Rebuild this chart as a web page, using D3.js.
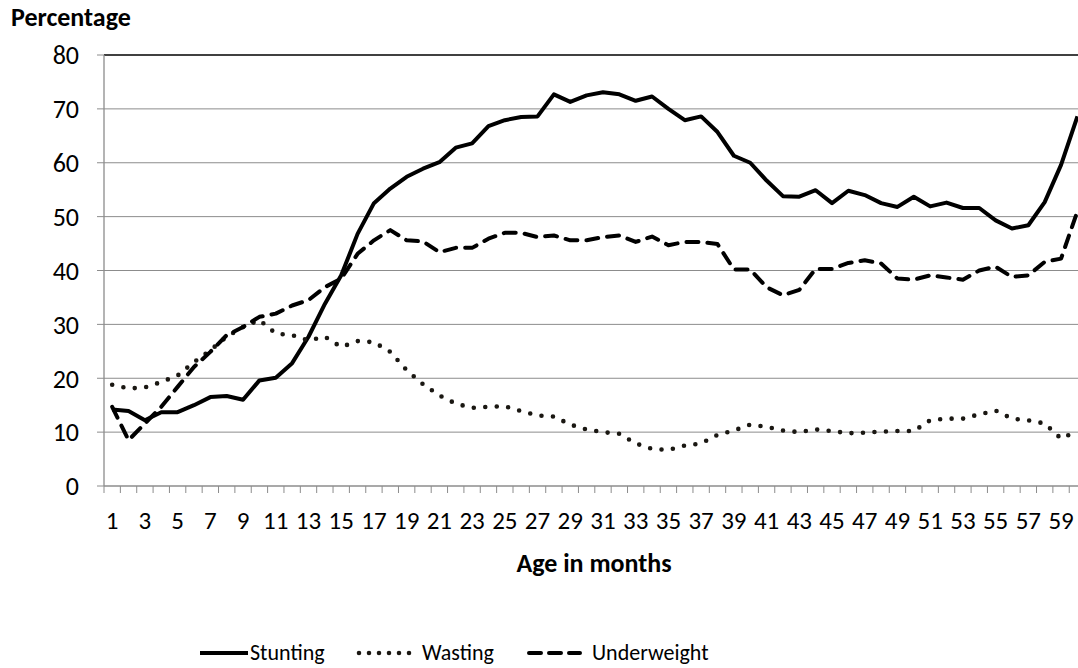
<!DOCTYPE html>
<html>
<head>
<meta charset="utf-8">
<script src="https://cdn.jsdelivr.net/npm/d3@7"></script>
<style>
  body { margin: 0; background: #fff; }
  svg { display: block; font-family: Carlito, Lato, "Open Sans", sans-serif; }
</style>
</head>
<body>
<script>
// age in months, 1..60
var months = d3.range(1, 61);
var yTicks = [0, 10, 20, 30, 40, 50, 60, 70, 80];

var stunting = [14.2, 13.9, 12.2, 13.7, 13.7, 15.0, 16.5, 16.7, 16.0, 19.6,
                20.1, 22.8, 27.7, 33.8, 39.1, 46.8, 52.5, 55.2, 57.4, 58.9,
                60.1, 62.8, 63.6, 66.8, 67.9, 68.5, 68.6, 72.7, 71.3, 72.5,
                73.1, 72.7, 71.5, 72.3, 70.0, 67.9, 68.6, 65.7, 61.3, 60.0,
                56.7, 53.8, 53.7, 54.9, 52.5, 54.8, 54.0, 52.5, 51.8, 53.7,
                51.9, 52.6, 51.6, 51.6, 49.3, 47.8, 48.4, 52.7, 59.6, 68.6];

var wasting = [18.8, 18.1, 18.3, 19.3, 20.5, 23.0, 25.2, 27.7, 29.5, 30.8,
               28.3, 28.0, 27.0, 27.7, 25.8, 26.9, 26.7, 24.9, 21.5, 18.9,
               16.8, 15.3, 14.5, 14.7, 14.8, 13.9, 13.1, 12.9, 11.4, 10.5,
               10.0, 9.7, 7.9, 6.9, 6.7, 7.5, 7.9, 9.5, 10.3, 11.4,
               11.0, 10.3, 10.0, 10.5, 10.2, 9.8, 9.9, 10.1, 10.2, 10.2,
               12.2, 12.5, 12.5, 13.3, 14.0, 12.5, 12.2, 11.6, 8.8, 10.2];

var underweight = [14.7, 8.5, 11.6, 14.7, 18.4, 22.1, 24.9, 28.0, 29.5, 31.4,
                   32.0, 33.5, 34.5, 36.9, 38.5, 43.1, 45.6, 47.5, 45.6, 45.4,
                   43.4, 44.2, 44.2, 45.9, 47.0, 47.0, 46.2, 46.5, 45.6, 45.6,
                   46.2, 46.5, 45.3, 46.3, 44.7, 45.3, 45.3, 44.9, 40.2, 40.2,
                   36.9, 35.4, 36.4, 40.3, 40.3, 41.4, 41.9, 41.3, 38.5, 38.3,
                   39.1, 38.7, 38.3, 40.0, 40.7, 38.8, 39.1, 41.6, 42.2, 51.0];

var seriesNames = ["Stunting", "Wasting", "Underweight"];

var width = 1078,
    height = 668;

var svg = d3.select("body")
    .append("svg")
    .attr("width", width)
    .attr("height", height);

var plotLeft = 104, plotTop = 55, plotBottom = 486;
var step = 16.36;

var x = d3.scaleBand()
    .domain(months)
    .range([plotLeft, plotLeft + months.length * step])
    .padding(0);

var y = d3.scaleLinear()
    .domain([0, 80])
    .range([plotBottom, plotTop]);

function cx(d){ return x(d) + x.bandwidth() / 2; }

// horizontal gridlines
svg.selectAll(".grid")
    .data(yTicks.filter(function(d){ return d > 0; }))
    .enter()
    .append("line")
    .attr("x1", plotLeft)
    .attr("x2", width)
    .attr("y1", function(d){ return y(d); })
    .attr("y2", function(d){ return y(d); })
    .attr("stroke", function(d){ return d == 80 ? "#000" : "#8c8c8c"; })
    .attr("stroke-width", function(d){ return d == 80 ? 1.3 : 1; });

// y axis
svg.append("line")
    .attr("x1", plotLeft).attr("x2", plotLeft)
    .attr("y1", plotTop).attr("y2", plotBottom)
    .attr("stroke", "#8c8c8c").attr("stroke-width", 1.3);

svg.selectAll(".ytick")
    .data(yTicks)
    .enter()
    .append("line")
    .attr("x1", plotLeft - 7).attr("x2", plotLeft)
    .attr("y1", function(d){ return y(d); })
    .attr("y2", function(d){ return y(d); })
    .attr("stroke", "#8c8c8c");

svg.selectAll(".ylab")
    .data(yTicks)
    .enter()
    .append("text")
    .attr("x", 79)
    .attr("y", function(d){ return y(d); })
    .attr("dy", "0.36em")
    .attr("text-anchor", "end")
    .attr("font-size", 26)
    .attr("fill", "#000")
    .text(function(d){ return d; });

// x axis
svg.append("line")
    .attr("x1", plotLeft).attr("x2", width)
    .attr("y1", plotBottom).attr("y2", plotBottom)
    .attr("stroke", "#8c8c8c").attr("stroke-width", 1.3);

svg.selectAll(".xtick")
    .data(months)
    .enter()
    .append("line")
    .attr("x1", function(d){ return x(d); })
    .attr("x2", function(d){ return x(d); })
    .attr("y1", plotBottom).attr("y2", plotBottom + 7)
    .attr("stroke", "#8c8c8c");

svg.selectAll(".xlab")
    .data(months.filter(function(d){ return d % 2 == 1; }))
    .enter()
    .append("text")
    .attr("x", function(d){ return cx(d); })
    .attr("y", 529)
    .attr("text-anchor", "middle")
    .attr("font-size", 25)
    .attr("fill", "#000")
    .text(function(d){ return d; });

// titles
svg.append("text")
    .attr("x", 11).attr("y", 26)
    .attr("font-size", 26).attr("font-weight", "bold")
    .text("Percentage");

svg.append("text")
    .attr("x", 594).attr("y", 572)
    .attr("text-anchor", "middle")
    .attr("font-size", 26).attr("font-weight", "bold")
    .text("Age in months");

// lines
var line = d3.line()
    .x(function(d, i){ return cx(months[i]); })
    .y(function(d){ return y(d); });

var styles = [
    { dash: null, cap: "butt", w: 4 },
    { dash: "0 11.5", cap: "round", w: 4.6 },
    { dash: "12 9", cap: "round", w: 4 }
];

[stunting, wasting, underweight].forEach(function(data, k){
    svg.append("path")
        .datum(data)
        .attr("fill", "none")
        .attr("stroke", k == 1 ? "#1a1712" : "#000")
        .attr("stroke-width", styles[k].w)
        .attr("stroke-linejoin", "round")
        .attr("stroke-linecap", styles[k].cap)
        .attr("stroke-dasharray", styles[k].dash)
        .attr("d", line);
});

// legend
var legendX = [200, 357, 527];
var legend = svg.selectAll(".legend")
    .data(seriesNames)
    .enter()
    .append("g")
    .attr("transform", function(d, i){ return "translate(" + legendX[i] + ",653)"; });

legend.append("line")
    .attr("x1", function(d, i){ return i == 0 ? 0 : 2; })
    .attr("x2", function(d, i){ return i == 0 ? 48 : 53; })
    .attr("y1", 0).attr("y2", 0)
    .attr("stroke", function(d, i){ return i == 1 ? "#1a1712" : "#000"; })
    .attr("stroke-width", function(d, i){ return styles[i].w; })
    .attr("stroke-linecap", function(d, i){ return styles[i].cap; })
    .attr("stroke-dasharray", function(d, i){ return i == 1 ? "0 10" : (i == 2 ? "12 8" : null); });

legend.append("text")
    .attr("x", function(d, i){ return [50, 65, 65][i]; })
    .attr("y", 0)
    .attr("dy", "0.34em")
    .attr("font-size", 22)
    .text(function(d){ return d; });
</script>
</body>
</html>
